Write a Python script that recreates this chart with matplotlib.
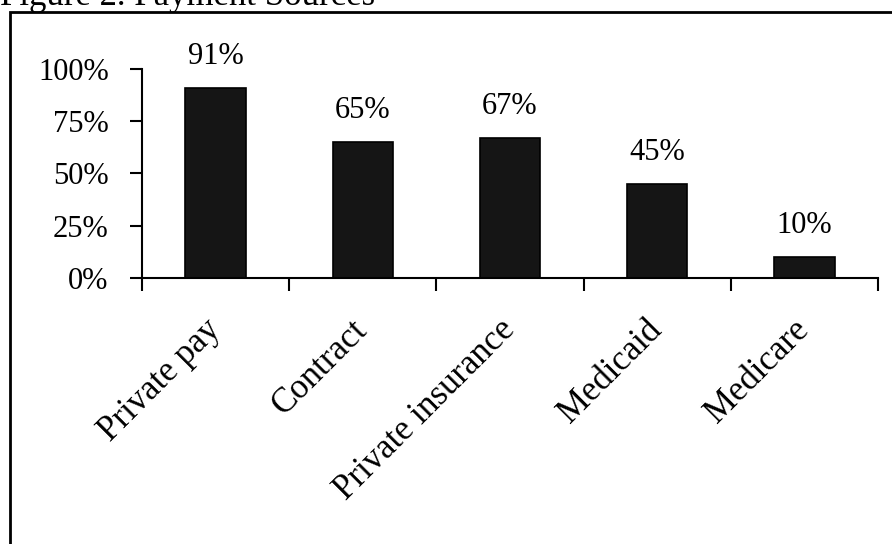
import matplotlib.pyplot as plt
from matplotlib.patches import Rectangle

categories = ["Private pay", "Contract", "Private insurance", "Medicaid", "Medicare"]
shares = [91, 65, 67, 45, 10]
y_ticks = [0, 25, 50, 75, 100]
title = "Figure 2. Payment Sources"

plt.rcParams["font.family"] = ["Liberation Serif", "DejaVu Serif"]

fig = plt.figure(figsize=(8.92, 5.44), dpi=100)
ax = fig.add_axes([142 / 892, 1 - 278 / 544, 736 / 892, 209 / 544])

x = list(range(len(categories)))
ax.bar(x, shares, width=0.41, color="#151515", edgecolor="black", linewidth=1.2)

for xi, v in zip(x, shares):
    ax.annotate(f"{v}%", (xi, v), xytext=(0, 12), textcoords="offset points",
                ha="center", va="bottom", fontsize=22)

ax.set_xlim(-0.5, len(categories) - 0.5)
ax.set_ylim(0, 100)
ax.set_yticks(y_ticks)
ax.set_yticklabels([f"{t}%" for t in y_ticks], fontsize=22)
ax.set_xticks([i - 0.5 for i in range(len(categories) + 1)])
ax.set_xticklabels([])
ax.set_xticks(x, minor=True)
ax.set_xticklabels(categories, minor=True, rotation=45, ha="right", va="center",
                   rotation_mode="anchor", fontsize=25)
ax.tick_params(axis="x", which="minor", length=0, pad=34)
ax.tick_params(axis="both", which="major", length=9, width=1.5, direction="out")
ax.tick_params(axis="y", pad=15)

for side in ["top", "right"]:
    ax.spines[side].set_visible(False)
for side in ["left", "bottom"]:
    ax.spines[side].set_linewidth(1.5)

# frame round the chart, running off the right and bottom edges
fig.patches.append(Rectangle((10 / 892, -0.1), 1.0, 1 - 12 / 544 + 0.1,
                             transform=fig.transFigure, fill=False,
                             edgecolor="black", linewidth=2))

fig.text(0.0, 1 - 5 / 544, title, ha="left", va="baseline", fontsize=25)

fig.savefig("out.png", dpi=100)
